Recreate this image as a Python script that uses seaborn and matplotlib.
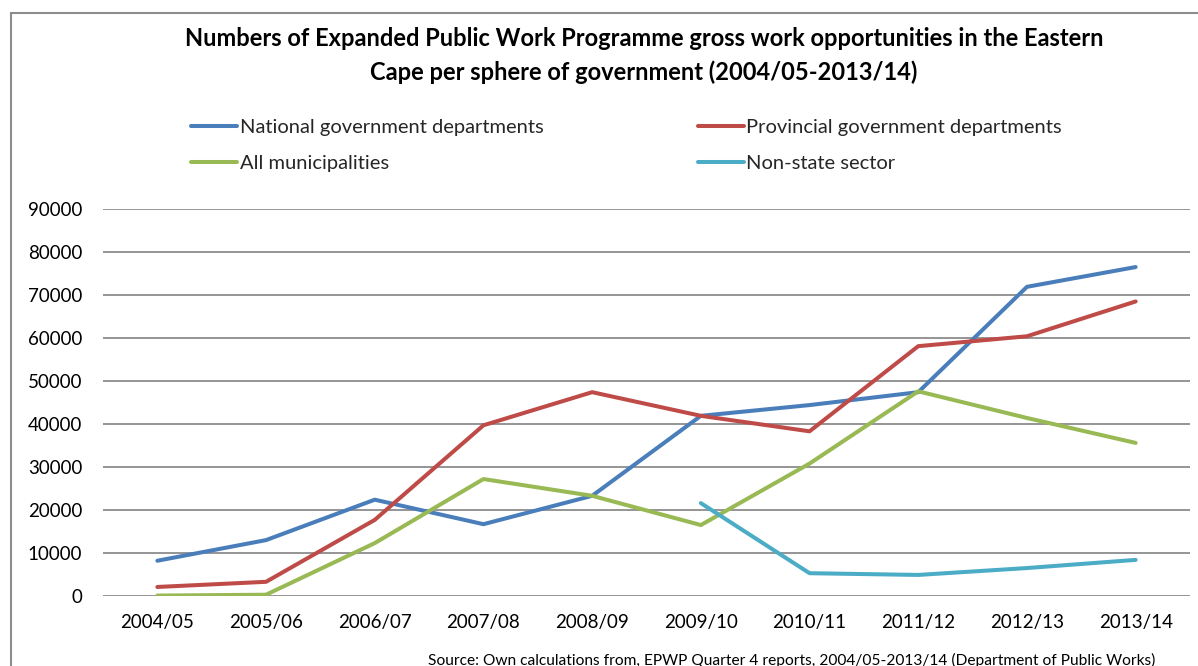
import numpy as np
import pandas as pd
import matplotlib
matplotlib.use("Agg")
import matplotlib.pyplot as plt
from matplotlib.lines import Line2D
import seaborn as sns

years = ["2004/05", "2005/06", "2006/07", "2007/08", "2008/09",
         "2009/10", "2010/11", "2011/12", "2012/13", "2013/14"]
national = [8200, 13000, 22400, 16700, 23300, 41900, 44400, 47400, 71900, 76500]
provincial = [2100, 3300, 17700, 39700, 47400, 41900, 38300, 58100, 60400, 68500]
municipalities = [100, 300, 12300, 27200, 23300, 16500, 30800, 47600, 41400, 35600]
non_state = [np.nan, np.nan, np.nan, np.nan, np.nan, 21600, 5300, 4900, 6500, 8400]

series_names = ["National government departments", "Provincial government departments",
                "All municipalities", "Non-state sector"]
series_values = [national, provincial, municipalities, non_state]
colors = ["#4A7EBB", "#BE4B48", "#98B954", "#4BACC6"]

rows = []
for name, vals in zip(series_names, series_values):
    for yr, v in zip(years, vals):
        if not np.isnan(v):
            rows.append({"Year": yr, "Series": name, "Value": v})
df = pd.DataFrame(rows)

sns.set_theme(style="white")
plt.rcParams["font.family"] = ["Lato", "DejaVu Sans"]

W, H = 1198, 666
fig = plt.figure(figsize=(W / 100, H / 100), dpi=100)
ax = fig.add_axes([103 / W, 1 - 596 / H, (1190 - 103) / W, (596 - 209) / H])

sns.lineplot(data=df, x="Year", y="Value", hue="Series", hue_order=series_names,
             palette=colors, linewidth=2.9, sort=False, legend=False, ax=ax,
             solid_capstyle="round")

ax.set_xlim(-0.5, len(years) - 0.5)
ax.set_ylim(0, 90000)
ax.set_yticks(np.arange(0, 90001, 10000))
ax.set_yticklabels([str(v) for v in range(0, 90001, 10000)])
ax.set_xlabel("")
ax.set_ylabel("")
for s in ax.spines.values():
    s.set_visible(False)
ax.grid(axis="y", color="#8c8c8c", linewidth=1.3)
ax.grid(axis="x", visible=False)
ax.set_axisbelow(True)
ax.tick_params(axis="y", length=0, pad=15, labelsize=13.5, labelcolor="black")
ax.tick_params(axis="x", length=0, pad=13, labelsize=13.5, labelcolor="black")

# title
fig.text(644 / W, 1 - 38 / H,
         "Numbers of Expanded Public Work Programme gross work opportunities in the Eastern",
         ha="center", va="center", fontsize=17, fontweight="bold", color="black")
fig.text(644 / W, 1 - 72 / H,
         "Cape per sphere of government (2004/05-2013/14)",
         ha="center", va="center", fontsize=17, fontweight="bold", color="black")

# legend, filled column-wise: national & municipalities left, provincial & non-state right
order = [0, 2, 1, 3]
handles = [Line2D([], [], color=colors[i], linewidth=2.9) for i in order]
labels = [series_names[i] for i in order]
fig.legend(handles, labels, ncol=2, loc="upper left",
           bbox_to_anchor=(191 / W, 1 - 119 / H), frameon=False,
           fontsize=14.5, handlelength=2.29, handletextpad=0.12,
           labelspacing=0.92, columnspacing=7.66, borderpad=0, borderaxespad=0)

# source note
fig.text(428 / W, 1 - 665 / H,
         "Source: Own calculations from, EPWP Quarter 4 reports, 2004/05-2013/14 (Department of Public Works)",
         ha="left", va="baseline", fontsize=11.2, color="black")

# chart frame
frame_kw = dict(color="#8c8c8c", linewidth=1.5, transform=fig.transFigure)
fig.add_artist(Line2D([11 / W, 11 / W], [0, 1 - 13 / H], **frame_kw))
fig.add_artist(Line2D([11 / W, 1], [1 - 13 / H, 1 - 13 / H], **frame_kw))

fig.savefig("out.png", dpi=100)
